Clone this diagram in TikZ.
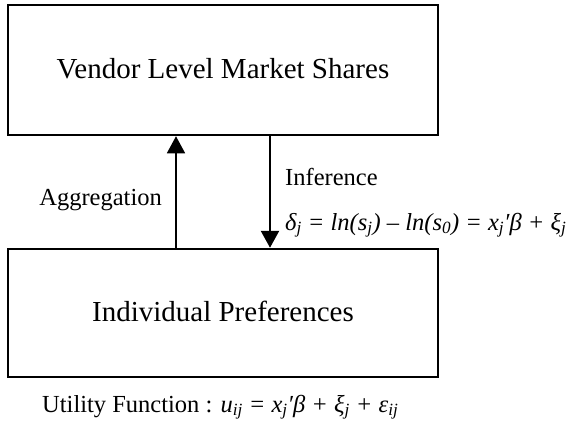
\documentclass[tikz,border=0pt]{standalone}
\usepackage{fontspec}
\setmainfont{Liberation Serif}
\usetikzlibrary{arrows.meta}
\newcommand{\sbs}[1]{\textsubscript{#1}}

\begin{document}
\begin{tikzpicture}
	[x=1pt,y=-1pt%
	,box/.style={draw=black,%
		line width=2.5pt,%
		minimum width=430pt,%
		text depth=.3em,%
		font=\fontsize{29}{33}\selectfont}%
	,lab/.style={inner sep=0pt,%
		font=\fontsize{24.5}{28}\selectfont}%
	,conn/.style={-{Triangle[width=18pt,length=17pt]}}]
	\useasboundingbox (0,0) rectangle (568,424);
	\node[box,minimum height=130pt] (shares) at (223,70) {Vendor Level Market Shares};
	\node[box,minimum height=128pt] (prefs) at (223,313) {Individual Preferences};
	\coordinate (aggx) at (176,0);
	\coordinate (infx) at (270,0);
	\draw[conn,line width=1.5pt] (prefs.north -| aggx) -- (shares.south -| aggx);
	\draw[conn,line width=2.5pt] (shares.south -| infx) -- (prefs.north -| infx);
	\node[lab,anchor=base east] (agg) at (162,205) {Aggregation};
	\node[lab,anchor=base west] (inf) at (285,185) {Inference};
	\node[lab,anchor=base west] (infeq) at (285,230)
		{\itshape δ\sbs{j} = ln(s\sbs{j}) – ln(s\sbs{0}) = x\sbs{j}′β + ξ\sbs{j}};
	\node[lab,anchor=base west] (util) at (42,412)
		{Utility Function : \itshape u\sbs{ij} = x\sbs{j}′β + ξ\sbs{j} + ε\sbs{ij}};
\end{tikzpicture}
\end{document}
